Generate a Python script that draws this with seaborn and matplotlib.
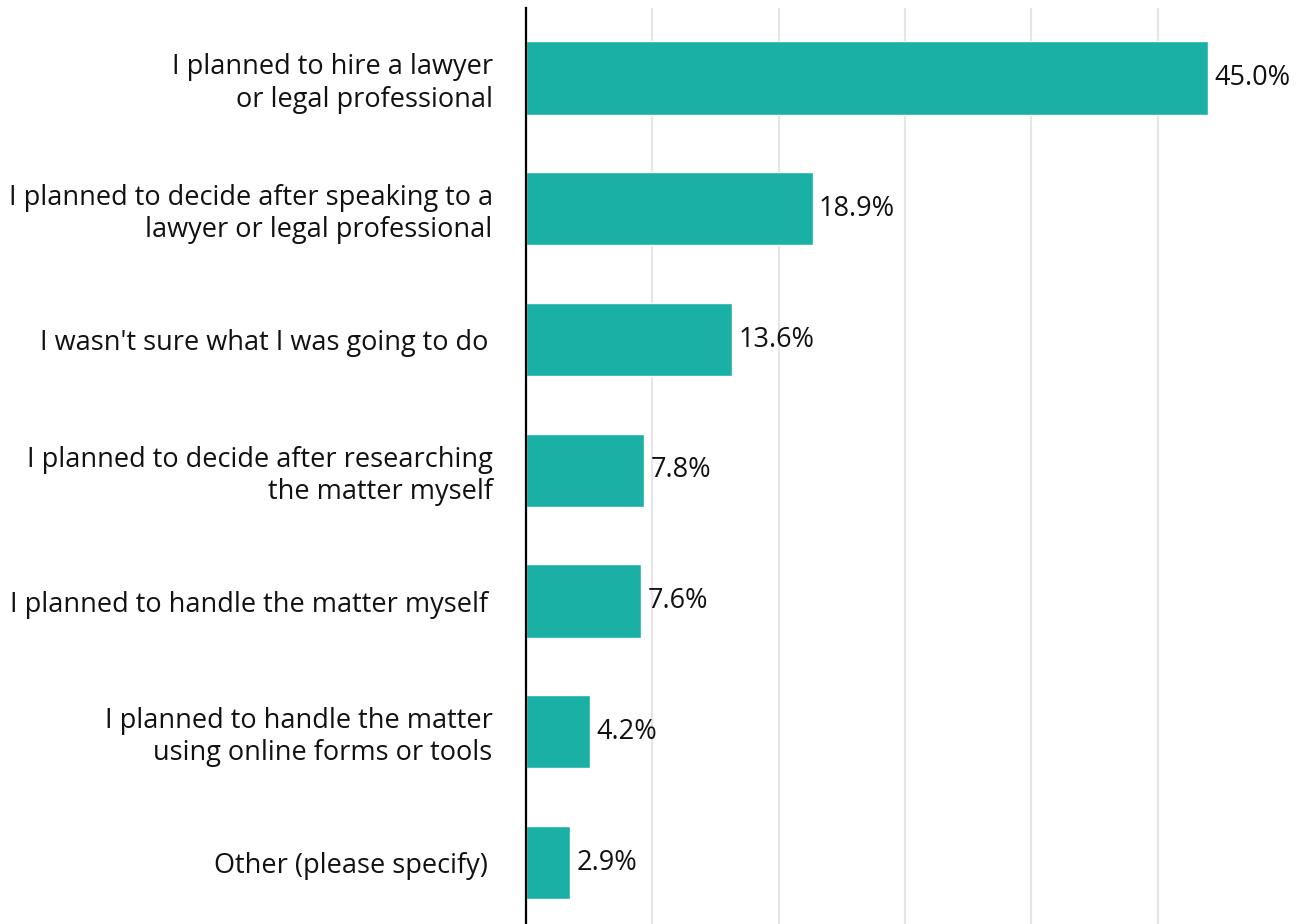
import matplotlib
matplotlib.use("Agg")
import matplotlib.pyplot as plt
import seaborn as sns
import pandas as pd
import numpy as np

categories = [
    "I planned to hire a lawyer\nor legal professional",
    "I planned to decide after speaking to a\nlawyer or legal professional",
    "I wasn't sure what I was going to do\u2009",
    "I planned to decide after researching\nthe matter myself",
    "I planned to handle the matter myself\u2009",
    "I planned to handle the matter\nusing online forms or tools",
    "Other (please specify)\u2009",
]
values = [45.0, 18.9, 13.6, 7.8, 7.6, 4.2, 2.9]
value_labels = ["45.0%", "18.9%", "13.6%", "7.8%", "7.6%", "4.2%", "2.9%"]

sns.set_theme(style="white")
plt.rcParams["font.family"] = ["Open Sans", "DejaVu Sans"]

df = pd.DataFrame({"category": categories, "value": values})

fig = plt.figure(figsize=(13.04, 9.24), dpi=100)
ax = fig.add_axes([0.4034, 0.0, 0.9847 - 0.4034, 0.9913])

sns.barplot(data=df, x="value", y="category", orient="h", color="#1BB0A5",
            saturation=1, width=0.56, ax=ax)

ax.set_xlim(0, 50)
ax.set_ylim(6.47, -0.535)
# gridlines every sixth of the range, the outer edge left blank
ax.set_xticks(np.linspace(0, 50, 7)[:-1])
ax.set_xticklabels([])
ax.tick_params(axis="x", length=0)
ax.tick_params(axis="y", length=0, pad=24, labelsize=19.5, labelcolor="#111111")
for lbl in ax.get_yticklabels():
    lbl.set_horizontalalignment("right")
ax.grid(axis="x", color="#e6e6e6", linewidth=1.6)
ax.set_axisbelow(True)
ax.set_xlabel("")
ax.set_ylabel("")

for s in ["top", "right", "bottom"]:
    ax.spines[s].set_visible(False)
ax.spines["left"].set_color("black")
ax.spines["left"].set_linewidth(1.6)
ax.spines["left"].set_zorder(5)

for container in ax.containers:
    ax.bar_label(container, labels=value_labels, padding=4.5, fontsize=19.5,
                 color="#111111")

fig.savefig("out.png", dpi=100)
